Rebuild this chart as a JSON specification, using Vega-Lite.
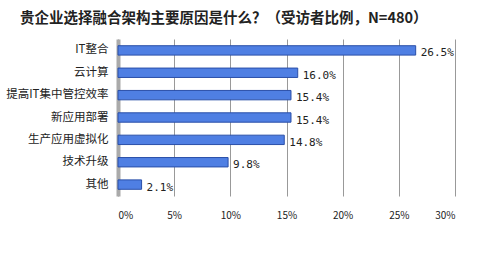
{
  "$schema": "https://vega.github.io/schema/vega-lite/v6.json",
  "autosize": "none",
  "width": 337,
  "height": 157,
  "padding": {"left": 118, "top": 39, "right": 45, "bottom": 68},
  "background": "white",
  "title": {
    "text": "贵企业选择融合架构主要原因是什么？（受访者比例，N=480）",
    "anchor": "start",
    "frame": "group",
    "dx": -98,
    "offset": 13,
    "font": "Noto Sans CJK SC",
    "fontSize": 14.5,
    "fontWeight": "bold",
    "color": "#222222"
  },
  "data": {
    "values": [
      {"reason": "IT整合", "pct": 26.5},
      {"reason": "云计算", "pct": 16.0},
      {"reason": "提高IT集中管控效率", "pct": 15.4},
      {"reason": "新应用部署", "pct": 15.4},
      {"reason": "生产应用虚拟化", "pct": 14.8},
      {"reason": "技术升级", "pct": 9.8},
      {"reason": "其他", "pct": 2.1}
    ]
  },
  "encoding": {
    "y": {
      "field": "reason",
      "type": "nominal",
      "sort": null,
      "title": null,
      "scale": {"paddingInner": 0.58, "paddingOuter": 0.3},
      "axis": {
        "labelFont": "Noto Sans CJK SC",
        "labelFontSize": 11.5,
        "labelColor": "#222222",
        "labelPadding": 10,
        "ticks": false,
        "domainColor": "#aaaaaa",
        "domainWidth": 4
      }
    },
    "x": {
      "field": "pct",
      "type": "quantitative",
      "title": null,
      "scale": {"domain": [0, 30]},
      "axis": {
        "values": [0, 5, 10, 15, 20, 25, 30],
        "labelExpr": "datum.value + '%'",
        "labelFont": "Noto Sans CJK SC",
        "labelFontSize": 10,
        "labelColor": "#222222",
        "labelPadding": 14,
        "domain": false,
        "ticks": false,
        "grid": true,
        "gridColor": "#999999",
        "gridWidth": 1
      }
    }
  },
  "layer": [
    {
      "mark": {"type": "bar", "color": "#4f7fe3", "stroke": "#2a4fa8", "strokeWidth": 1}
    },
    {
      "mark": {"type": "text", "align": "left", "dx": 5, "dy": 3, "font": "DejaVu Sans Mono", "fontSize": 11, "color": "#222222", "text": {"expr": "format(datum.pct, '.1f') + '%'"}},
      "encoding": {}
    }
  ],
  "config": {"view": {"stroke": null}}
}
